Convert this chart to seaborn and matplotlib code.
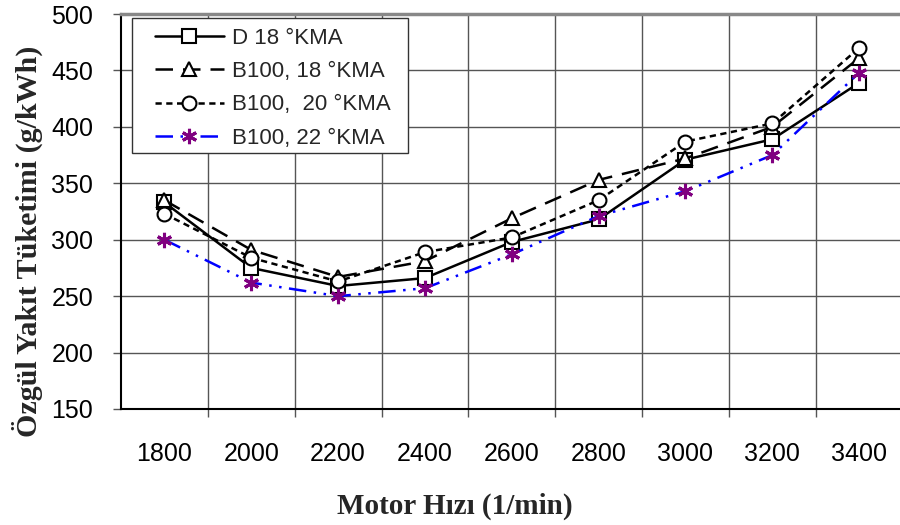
import matplotlib
matplotlib.use("Agg")
import matplotlib.pyplot as plt
import seaborn as sns
import pandas as pd
import numpy as np
from matplotlib.ticker import FixedLocator, MultipleLocator
from matplotlib.patches import Rectangle

speeds = ["1800", "2000", "2200", "2400", "2600", "2800", "3000", "3200", "3400"]
d18 = [333, 275, 259, 266, 298, 318, 371, 389, 439]
b100_18 = [335, 291, 267, 281, 319, 353, 372, 400, 461]
b100_20 = [323, 284, 263, 289, 302, 335, 387, 403, 470]
b100_22 = [300, 262, 250, 257, 287, 321, 343, 375, 448]
series_names = ["D 18 °KMA", "B100, 18 °KMA", "B100,  20 °KMA", "B100, 22 °KMA"]

sns.set_theme(style="white")
plt.rcParams["font.family"] = ["Liberation Sans", "DejaVu Sans"]

fig = plt.figure(figsize=(9, 5.25), dpi=100)
ax = fig.add_axes([121/900, 1-409/525, 1-121/900, (409-14)/525])

pos = np.arange(len(speeds))
styles = [
    dict(color="black", linestyle="-", marker="s", markersize=9.5, markerfacecolor="white",
         markeredgecolor="black", markeredgewidth=1.5),
    dict(color="black", linestyle=(0, (7, 4)), marker="^", markersize=10, markerfacecolor="white",
         markeredgecolor="black", markeredgewidth=1.5),
    dict(color="black", linestyle=(0, (2.5, 1.8)), marker="o", markersize=10, markerfacecolor="white",
         markeredgecolor="black", markeredgewidth=1.5),
    dict(color="#0000FF", linestyle=(0, (7, 3, 1, 3, 1, 3)), marker=(6, 2, 0), markersize=11,
         markerfacecolor="#800080", markeredgecolor="#800080", markeredgewidth=2.2),
]
all_vals = [d18, b100_18, b100_20, b100_22]
for name, vals, st in zip(series_names, all_vals, styles):
    df = pd.DataFrame({"pos": pos, "val": vals})
    sns.lineplot(data=df, x="pos", y="val", ax=ax, label=name, linewidth=1.8, **st)

ax.set_ylim(150, 500)
ax.set_xlim(-0.5, 8.47)
ax.yaxis.set_major_locator(MultipleLocator(50))
ax.set_xticks(pos)
ax.set_xticklabels(speeds)
ax.xaxis.set_minor_locator(FixedLocator(np.arange(0.5, 8.5, 1)))
ax.tick_params(axis="x", which="major", length=0, labelsize=18, pad=24, colors="black")
ax.tick_params(axis="x", which="minor", length=6, width=1, color="#555555", bottom=True)
ax.tick_params(axis="y", which="major", length=6, width=1, color="#555555", labelsize=18,
               left=True, pad=14, labelcolor="black")
ax.grid(True, axis="y", which="major", color="#555555", linewidth=1)
ax.grid(True, axis="x", which="minor", color="#555555", linewidth=1)
ax.grid(False, axis="x", which="major")

for side in ["left", "bottom"]:
    ax.spines[side].set_color("black")
    ax.spines[side].set_linewidth(1.5)
ax.spines["top"].set_color("#888888")
ax.spines["top"].set_linewidth(2.5)
ax.spines["right"].set_visible(False)

ax.set_xlabel("Motor Hızı (1/min)", family=["Liberation Serif", "DejaVu Serif"], fontweight="bold",
              fontsize=21)
ax.set_ylabel("Özgül Yakıt Tüketimi (g/kWh)", family=["Liberation Serif", "DejaVu Serif"],
              fontweight="bold", fontsize=21.6)
ax.xaxis.set_label_coords(0.429, -0.212)
ax.yaxis.set_label_coords(-0.100, 0.424)

# legend box
W, H = 779.0, 395.0
box = Rectangle(((132-121)/W, 1-(153-14)/H), (408-132)/W, (153-18)/H, transform=ax.transAxes,
                facecolor="white", edgecolor="#333333", linewidth=1, zorder=4)
ax.add_patch(box)
leg = ax.legend(loc="upper left", bbox_to_anchor=((155-121)/W, 1-(28-14)/H), fontsize=16,
                handlelength=3.1, labelspacing=0.55, frameon=False, borderpad=0,
                handletextpad=0.35, borderaxespad=0)
leg.set_zorder(5)

fig.savefig("out.png", dpi=100)
